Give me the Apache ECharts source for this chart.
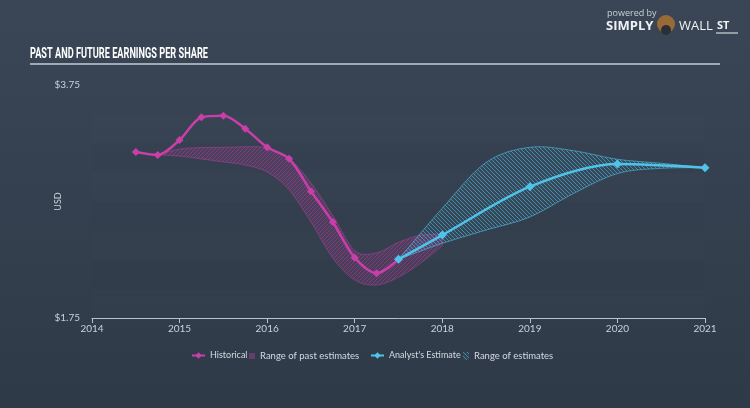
<!DOCTYPE html>
<html>
<head>
<meta charset="utf-8">
<script src="https://cdn.jsdelivr.net/npm/echarts@6/dist/echarts.min.js"></script>
<style>
html,body{margin:0;padding:0;background:#34404f;}
#c{width:750px;height:408px;}
</style>
</head>
<body>
<div id="c"></div>
<script>
// ---- data ----
const yearTicks = [2014, 2015, 2016, 2017, 2018, 2019, 2020, 2021];
const histDates = [2014.5, 2014.75, 2015.0, 2015.25, 2015.5, 2015.75, 2016.0, 2016.25, 2016.5, 2016.75, 2017.0, 2017.25, 2017.5];
const histValues = [3.175, 3.15, 3.278, 3.473, 3.486, 3.375, 3.215, 3.117, 2.838, 2.574, 2.268, 2.134, 2.254];
const pastRangeDates = [2014.75, 2015.0, 2015.25, 2015.5, 2015.75, 2016.0, 2016.25, 2016.5, 2016.75, 2017.0, 2017.25, 2017.5, 2017.75, 2018.0];
const pastRangeLow  = [3.15, 3.14, 3.115, 3.09, 3.063, 3.003, 2.85, 2.574, 2.265, 2.076, 2.033, 2.10, 2.22, 2.37];
const pastRangeHigh = [3.15, 3.20, 3.213, 3.215, 3.22, 3.21, 3.12, 2.91, 2.63, 2.33, 2.31, 2.40, 2.46, 2.47];
const estDates = [2017.5, 2018.0, 2019.0, 2020.0, 2021.0];
const estValues = [2.254, 2.462, 2.877, 3.072, 3.04];
const estRangeDates = [2017.5, 2018.0, 2018.5, 2019.0, 2019.5, 2020.0, 2020.5, 2021.0];
const estRangeLow  = [2.254, 2.391, 2.505, 2.617, 2.82, 2.99, 3.035, 3.04];
const estRangeHigh = [2.254, 2.692, 3.085, 3.215, 3.186, 3.112, 3.078, 3.04];
const yMin = 1.75, yMax = 3.75, yStep = 0.25;
const titleText = 'PAST AND FUTURE EARNINGS PER SHARE';

const PINK = '#c83fa8';
const BLUE = '#4fc3e8';

function hatch(color, dir, bg) {
  const c = document.createElement('canvas');
  c.width = 4; c.height = 4;
  const g = c.getContext('2d');
  if (bg) { g.fillStyle = bg; g.fillRect(0,0,4,4); }
  g.strokeStyle = color; g.lineWidth = 0.8;
  g.beginPath();
  if (dir > 0) { g.moveTo(0,4); g.lineTo(4,0); g.moveTo(-1,1); g.lineTo(1,-1); g.moveTo(3,5); g.lineTo(5,3); }
  else { g.moveTo(0,0); g.lineTo(4,4); g.moveTo(3,-1); g.lineTo(5,1); g.moveTo(-1,3); g.lineTo(1,5); }
  g.stroke();
  return c;
}
const pinkPattern = hatch('rgba(200,63,168,0.5)', 1, 'rgba(200,63,168,0.16)');
const bluePattern = hatch('rgba(79,195,232,0.7)', -1, 'rgba(79,195,232,0.06)');

const zip = (xs, ys) => xs.map((x, i) => [x, ys[i]]);

// smooth path (Catmull-Rom -> Bezier) through pixel points
function splineSegs(pts, t) {
  let d = '';
  for (let i = 0; i < pts.length - 1; i++) {
    const p0 = pts[Math.max(i - 1, 0)], p1 = pts[i], p2 = pts[i + 1], p3 = pts[Math.min(i + 2, pts.length - 1)];
    const c1x = p1[0] + (p2[0] - p0[0]) * t / 6, c1y = p1[1] + (p2[1] - p0[1]) * t / 6;
    const c2x = p2[0] - (p3[0] - p1[0]) * t / 6, c2y = p2[1] - (p3[1] - p1[1]) * t / 6;
    d += ' C' + c1x + ',' + c1y + ' ' + c2x + ',' + c2y + ' ' + p2[0] + ',' + p2[1];
  }
  return d;
}
function bandRender(dates, lo, hi, fill, stroke) {
  return function (params, api) {
    if (params.dataIndex !== 0) return null;
    const up = dates.map((x, i) => api.coord([x, hi[i]]));
    const dn = dates.map((x, i) => api.coord([x, lo[i]])).reverse();
    let d = 'M' + up[0][0] + ',' + up[0][1] + splineSegs(up, 1);
    d += ' L' + dn[0][0] + ',' + dn[0][1] + splineSegs(dn, 1) + ' Z';
    return {
      type: 'path',
      shape: {pathData: d},
      style: {fill: fill, stroke: stroke, lineWidth: 0.8}
    };
  };
}

const chart = echarts.init(document.getElementById('c'), null, {renderer: 'canvas'});

// fit title width to reference (~178px)
const mc = document.createElement('canvas').getContext('2d');
const titleFont = 'bold 15px Roboto';
mc.font = titleFont;
const titleScale = 178 / mc.measureText(titleText).width;

const labelColor = '#c9d1da';
function legendAt(left, name, w, h, fs) {
  return {
    left: left, top: 351, padding: 0, itemWidth: w, itemHeight: h,
    textStyle: {color: '#d3dae2', fontFamily: 'Lato', fontSize: fs}, data: [name]
  };
}
const option = {
  animation: false,
  backgroundColor: {
    type: 'linear', x: 0, y: 0, x2: 0, y2: 1,
    colorStops: [{offset: 0, color: '#3a4656'}, {offset: 1, color: '#2f3a48'}]
  },
  grid: {left: 92, right: 45, top: 85, bottom: 90},
  xAxis: {
    type: 'value', min: yearTicks[0], max: yearTicks[yearTicks.length - 1], interval: 1,
    axisLine: {show: true, lineStyle: {color: '#b9c3cd', width: 1}},
    axisTick: {show: true, length: 5, lineStyle: {color: '#b9c3cd'}},
    splitLine: {show: false},
    axisLabel: {color: labelColor, fontFamily: 'Lato', fontSize: 10, margin: 6, formatter: v => String(v)}
  },
  yAxis: {
    type: 'value', min: yMin, max: yMax, interval: yStep,
    name: 'USD', nameLocation: 'middle', nameGap: 29, nameRotate: 90, nameMoveOverlap: false,
    nameTextStyle: {color: labelColor, fontFamily: 'Lato', fontSize: 9},
    axisLine: {show: false}, axisTick: {show: false},
    splitLine: {show: false},
    splitArea: {show: true, areaStyle: {color: [
      'rgba(255,255,255,0.008)', 'rgba(0,0,0,0.012)', 'rgba(255,255,255,0.008)', 'rgba(0,0,0,0.012)',
      'rgba(255,255,255,0.008)', 'rgba(0,0,0,0.012)', 'rgba(255,255,255,0.008)', 'rgba(0,0,0,0)'
    ]}},
    axisLabel: {
      color: labelColor, fontFamily: 'Lato', fontSize: 10, margin: 12,
      formatter: v => (Math.abs(v - yMin) < 1e-6 || Math.abs(v - yMax) < 1e-6) ? '$' + v.toFixed(2) : ''
    }
  },
  legend: [
    legendAt(191, {name: 'Historical'}, 13, 8, 9),
    legendAt(249, {name: 'Range of past estimates', icon: 'rect', itemStyle: {color: 'rgba(200,63,168,0.35)'}}, 6, 6, 9.5),
    legendAt(370, {name: "Analyst's Estimate"}, 13, 8, 9),
    legendAt(463, {name: 'Range of estimates', icon: 'rect', itemStyle: {color: {image: bluePattern, repeat: 'repeat'}}}, 6, 8, 9.5)
  ],
  series: [
    {
      name: 'Range of past estimates', type: 'custom', clip: true,
      data: zip(pastRangeDates, pastRangeLow),
      encode: {x: 0, y: 1},
      itemStyle: {color: 'rgba(200,63,168,0.35)'},
      renderItem: bandRender(pastRangeDates, pastRangeLow, pastRangeHigh,
        {image: pinkPattern, repeat: 'repeat'}, 'rgba(200,63,168,0.55)'),
      z: 1
    },
    {
      name: 'Range of estimates', type: 'custom', clip: true,
      data: zip(estRangeDates, estRangeLow),
      encode: {x: 0, y: 1},
      itemStyle: {color: BLUE},
      renderItem: bandRender(estRangeDates, estRangeLow, estRangeHigh,
        {image: bluePattern, repeat: 'repeat'}, 'rgba(79,195,232,0.75)'),
      z: 2
    },
    {
      name: 'Historical', type: 'line', smooth: 0.3, symbol: 'diamond', symbolSize: 8,
      data: zip(histDates, histValues),
      lineStyle: {color: PINK, width: 2.5},
      itemStyle: {color: PINK},
      z: 5
    },
    {
      name: "Analyst's Estimate", type: 'line', smooth: 0.3, symbol: 'diamond', symbolSize: 9,
      data: zip(estDates, estValues),
      lineStyle: {color: BLUE, width: 2.5},
      itemStyle: {color: BLUE},
      z: 6
    }
  ],
  graphic: [
    {
      type: 'text', x: 30, y: 47, scaleX: titleScale, z: 10,
      style: {text: titleText, font: titleFont, fill: '#ffffff', textVerticalAlign: 'top'}
    },
    {
      type: 'line', z: 10,
      shape: {x1: 30, y1: 64, x2: 720, y2: 64},
      style: {stroke: '#c3ccd6', lineWidth: 1.5}
    },
    {
      type: 'text', x: 607, y: 9, z: 10,
      style: {text: 'powered by', font: '9px "Open Sans"', fill: '#c9d1da', textVerticalAlign: 'top'}
    },
    {
      type: 'text', x: 606, y: 20, z: 10,
      style: {text: 'SIMPLY', font: 'bold 13px "Open Sans"', fill: '#eef2f5', textVerticalAlign: 'top'}
    },
    {
      type: 'circle', z: 10, shape: {cx: 666, cy: 24, r: 9},
      style: {fill: '#9a6a36'}
    },
    {
      type: 'circle', z: 10, shape: {cx: 666, cy: 30, r: 5},
      style: {fill: '#2a2f36'}
    },
    {
      type: 'text', x: 679, y: 20, z: 10,
      style: {text: 'WALL', font: '13px "Open Sans"', fill: '#eef2f5', textVerticalAlign: 'top'}
    },
    {
      type: 'text', x: 717, y: 20, z: 10,
      style: {text: 'ST', font: 'bold 11px "Open Sans"', fill: '#eef2f5', textVerticalAlign: 'top'}
    },
    {
      type: 'line', z: 10, shape: {x1: 716, y1: 33, x2: 738, y2: 33},
      style: {stroke: '#eef2f5', lineWidth: 1}
    }
  ]
};
chart.setOption(option);
</script>
</body>
</html>
